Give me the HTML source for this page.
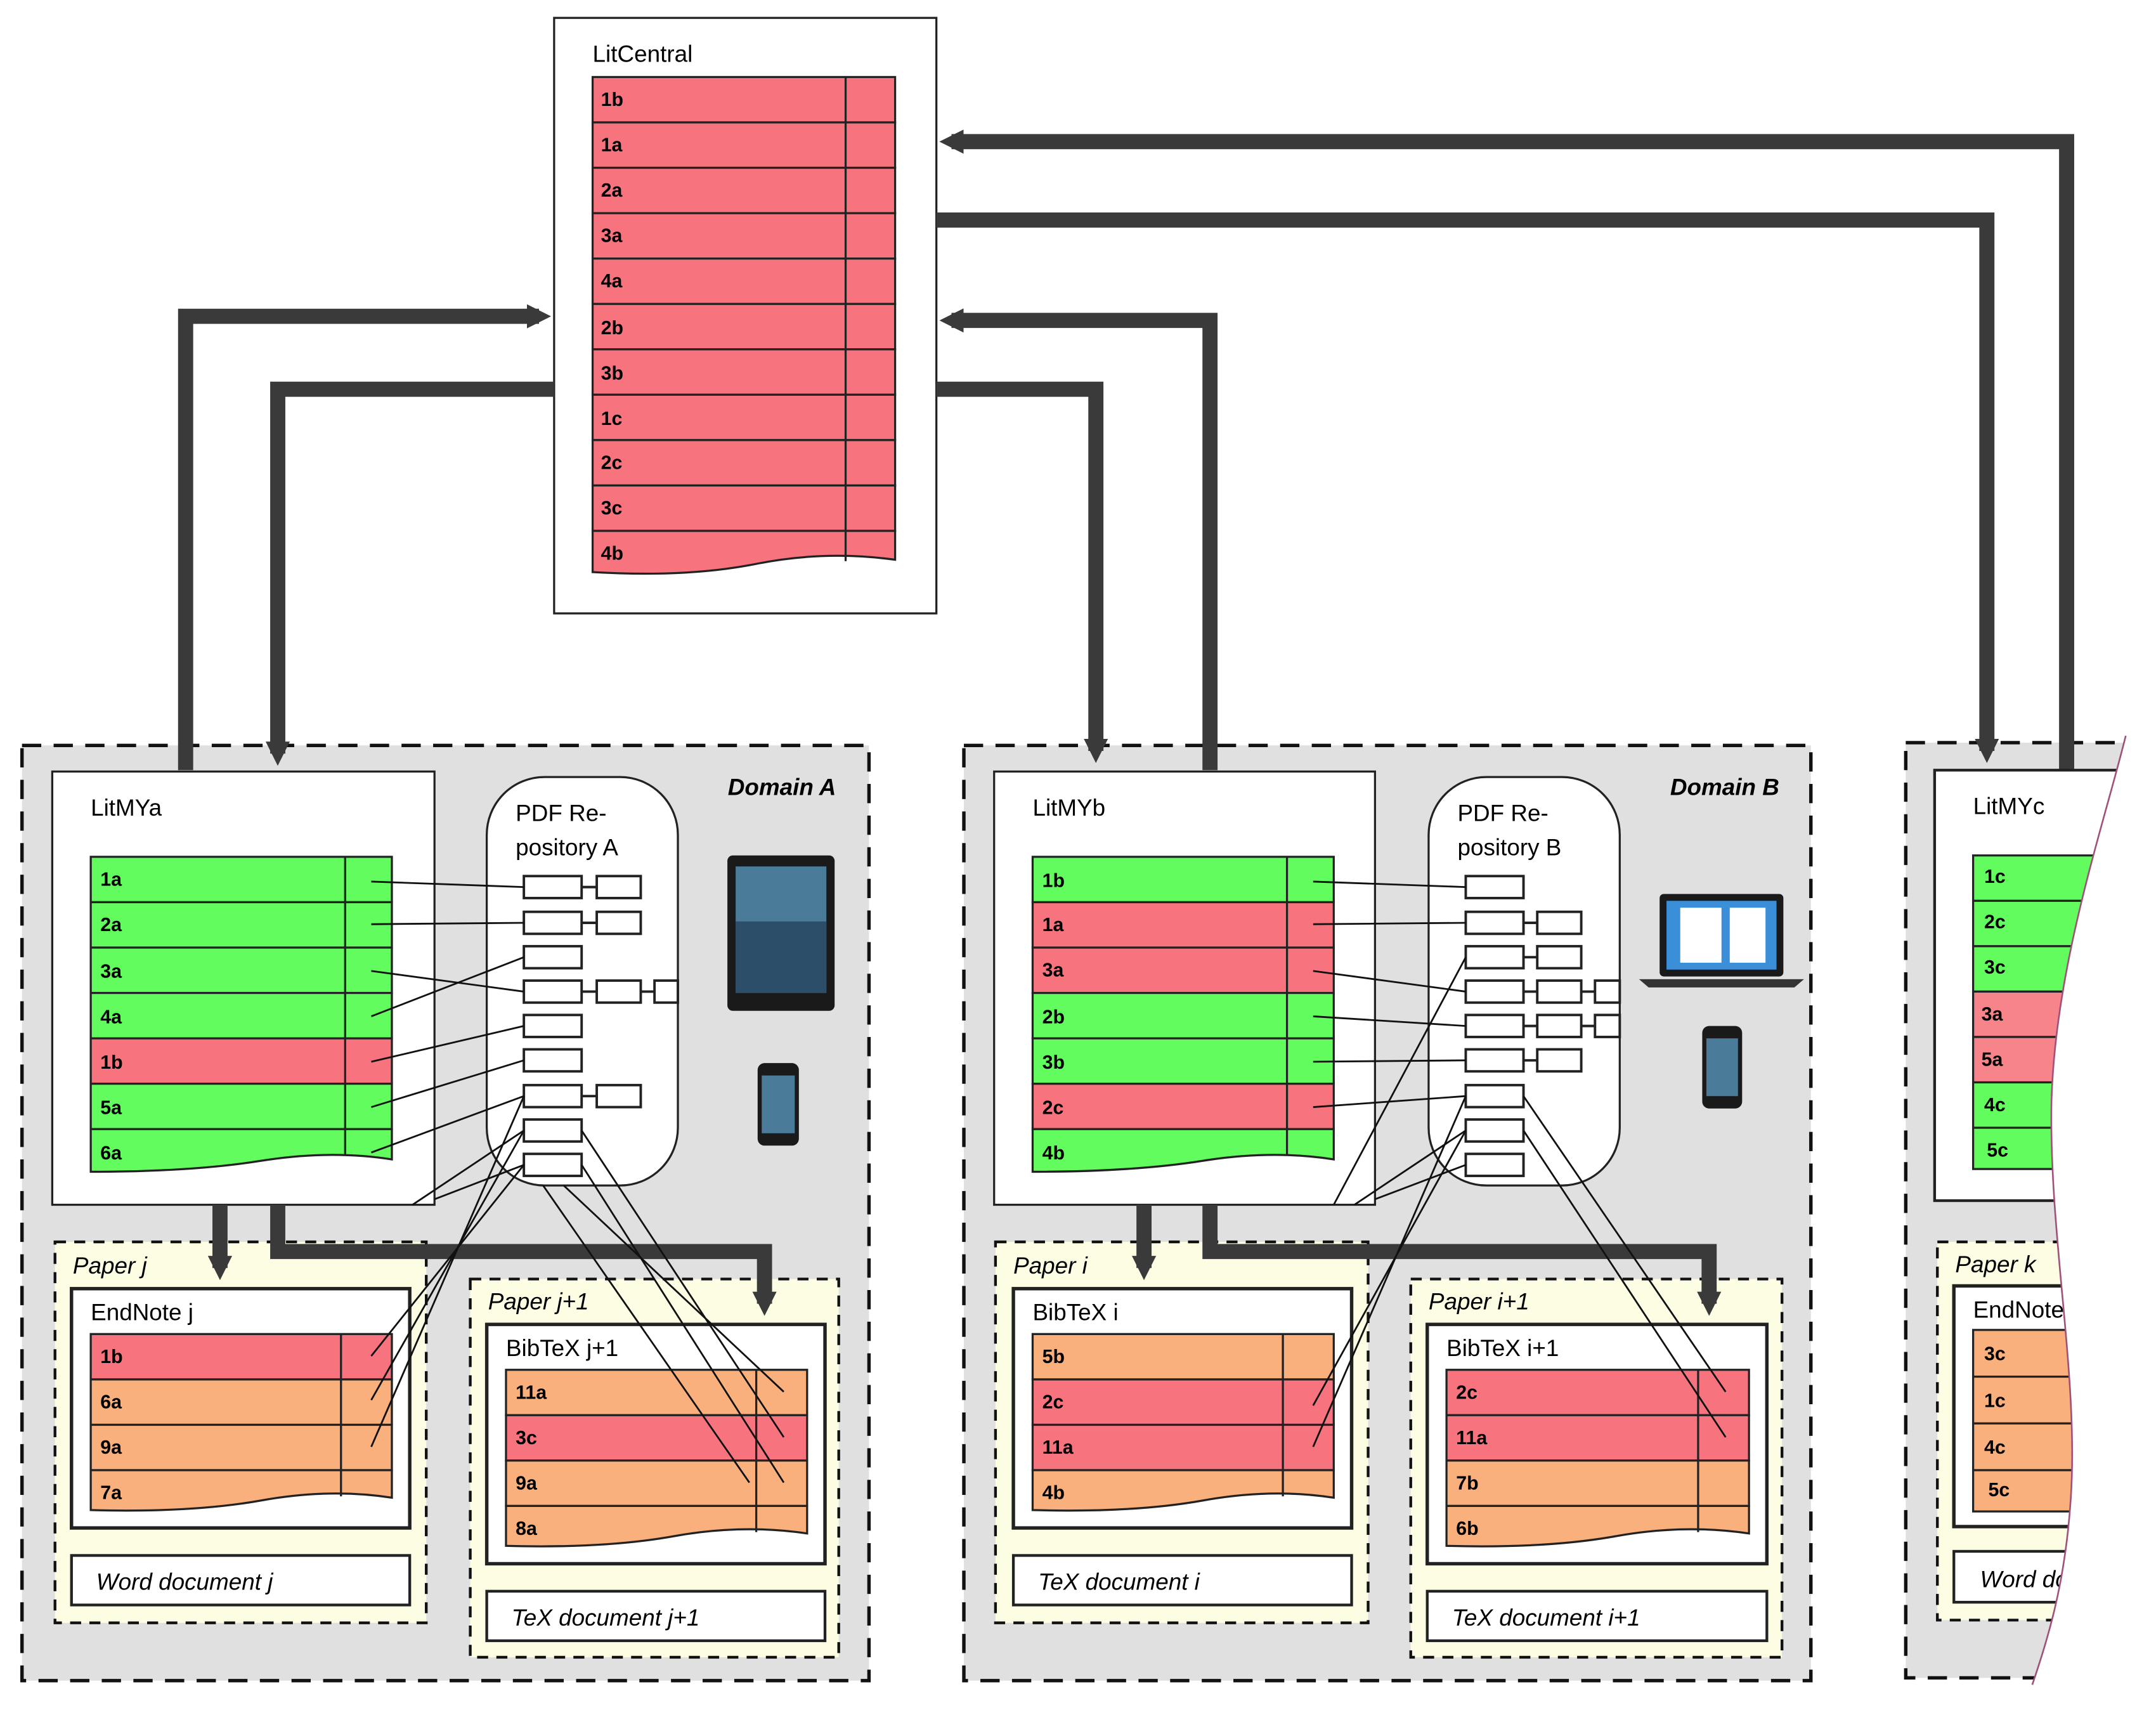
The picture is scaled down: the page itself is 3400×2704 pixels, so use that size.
<!DOCTYPE html>
<html><head><meta charset="utf-8"><style>html,body{margin:0;padding:0;background:#fff}svg{display:block}</style></head><body>
<svg xmlns="http://www.w3.org/2000/svg" width="3400" height="2704" viewBox="0 0 1568 1247" preserveAspectRatio="none" font-family="Liberation Sans, sans-serif">
<defs>
<marker id="ah" viewBox="0 0 10 10" refX="5" refY="5" markerWidth="1.6" markerHeight="1.6" orient="auto"><path d="M0,0 L10,5 L0,10 Z" fill="#3a3a3a"/></marker>
</defs>
<rect width="1568" height="1247" fill="#fff"/>

<rect x="16" y="542" width="616" height="680" fill="#e0e0e0" stroke="#111" stroke-width="2.5" stroke-dasharray="14,9"/>
<rect x="701" y="542" width="616" height="680" fill="#e0e0e0" stroke="#111" stroke-width="2.5" stroke-dasharray="14,9"/>
<rect x="1386" y="540" width="250" height="680" fill="#e0e0e0" stroke="#111" stroke-width="2.5" stroke-dasharray="14,9"/>
<text x="608" y="578" font-size="17" font-weight="bold" font-style="italic" text-anchor="end">Domain A</text>
<text x="1294" y="578" font-size="17" font-weight="bold" font-style="italic" text-anchor="end">Domain B</text>

<rect x="403" y="13" width="278" height="433" fill="#fff" stroke="#222" stroke-width="1.5"/>
<text x="431" y="45" font-size="17">LitCentral</text>
<g stroke="#222" stroke-width="1.5">
<g fill="#f7747f">
<rect x="431" y="56" width="220" height="33"/><rect x="431" y="89" width="220" height="33"/><rect x="431" y="122" width="220" height="33"/><rect x="431" y="155" width="220" height="33"/><rect x="431" y="188" width="220" height="33"/><rect x="431" y="221" width="220" height="33"/><rect x="431" y="254" width="220" height="33"/><rect x="431" y="287" width="220" height="33"/><rect x="431" y="320" width="220" height="33"/><rect x="431" y="353" width="220" height="33"/>
<path d="M431,386 H651 V407 Q600,400 550,410 T431,416 Z"/>
</g>
<line x1="615" y1="56" x2="615" y2="408"/>
</g>
<g font-size="14" font-weight="bold" fill="#000">
<text x="437" y="77">1b</text><text x="437" y="110">1a</text><text x="437" y="143">2a</text><text x="437" y="176">3a</text><text x="437" y="209">4a</text><text x="437" y="243">2b</text><text x="437" y="276">3b</text><text x="437" y="309">1c</text><text x="437" y="341">2c</text><text x="437" y="374">3c</text><text x="437" y="407">4b</text>
</g>

<g stroke="#3a3a3a" stroke-width="11" fill="none" stroke-linejoin="miter">
<path d="M135,560 V230 H392" marker-end="url(#ah)"/>
<path d="M403,283 H202 V548" marker-end="url(#ah)"/>
<path d="M1503,560 V103 H692" marker-end="url(#ah)"/>
<path d="M681,160 H1445 V546" marker-end="url(#ah)"/>
<path d="M880,560 V233 H692" marker-end="url(#ah)"/>
<path d="M681,283 H797 V546" marker-end="url(#ah)"/>
</g>

<rect x="40" y="903" width="270" height="277" fill="#fdfde4" stroke="#111" stroke-width="2" stroke-dasharray="8,6"/>
<rect x="342" y="930" width="268" height="275" fill="#fdfde4" stroke="#111" stroke-width="2" stroke-dasharray="8,6"/>
<rect x="38" y="561" width="278" height="315" fill="#fff" stroke="#222" stroke-width="1.5"/>
<text x="66" y="593" font-size="17">LitMYa</text>
<g stroke="#222" stroke-width="1.5">
<rect x="66" y="623" width="219" height="33" fill="#63fc5f"/><rect x="66" y="656" width="219" height="33" fill="#63fc5f"/><rect x="66" y="689" width="219" height="33" fill="#63fc5f"/><rect x="66" y="722" width="219" height="33" fill="#63fc5f"/><rect x="66" y="755" width="219" height="33" fill="#f7747f"/><rect x="66" y="788" width="219" height="33" fill="#63fc5f"/>
<path d="M66,821 H285 V843 Q240,836 190,844 T66,852 Z" fill="#63fc5f"/>
<line x1="251" y1="623" x2="251" y2="840"/>
</g>
<g font-size="14" font-weight="bold"><text x="73" y="644">1a</text><text x="73" y="677">2a</text><text x="73" y="711">3a</text><text x="73" y="744">4a</text><text x="73" y="777">1b</text><text x="73" y="810">5a</text><text x="73" y="843">6a</text></g>

<rect x="354" y="565" width="139" height="297" rx="42" fill="#fff" stroke="#222" stroke-width="1.5"/>
<text x="375" y="597" font-size="17">PDF Re-</text><text x="375" y="622" font-size="17">pository A</text>
<g fill="#fff" stroke="#222" stroke-width="1.8">
<rect x="381" y="637" width="42" height="16"/><rect x="434" y="637" width="32" height="16"/>
<rect x="381" y="663" width="42" height="16"/><rect x="434" y="663" width="32" height="16"/>
<rect x="381" y="688" width="42" height="16"/>
<rect x="381" y="713" width="42" height="16"/><rect x="434" y="713" width="32" height="16"/><rect x="476" y="713" width="17" height="16"/>
<rect x="381" y="738" width="42" height="16"/>
<rect x="381" y="763" width="42" height="16"/>
<rect x="381" y="789" width="42" height="16"/><rect x="434" y="789" width="32" height="16"/>
<rect x="381" y="814" width="42" height="16"/>
<rect x="381" y="839" width="42" height="16"/>
<path d="M423,645 H434 M423,671 H434 M423,721 H434 M466,721 H476 M423,797 H434"/>
</g>
<g stroke="#111" stroke-width="1.3" fill="none">
<line x1="270" y1="641" x2="381" y2="645"/><line x1="270" y1="672" x2="381" y2="671"/><line x1="270" y1="706" x2="381" y2="721"/><line x1="270" y1="739" x2="381" y2="696"/><line x1="270" y1="772" x2="381" y2="746"/><line x1="270" y1="805" x2="381" y2="771"/><line x1="270" y1="838" x2="381" y2="797"/>
<line x1="381" y1="822" x2="300" y2="876"/><line x1="381" y1="847" x2="316" y2="872"/>
</g>
<rect x="529" y="622" width="78" height="113" rx="4" fill="#1a1a1a"/>
<rect x="535" y="630" width="66" height="92" fill="#4a7c9a"/>
<rect x="535" y="670" width="66" height="52" fill="#2c4e68"/>
<rect x="551" y="773" width="30" height="60" rx="5" fill="#1a1a1a"/>
<rect x="554" y="782" width="24" height="42" fill="#4a7c9a"/>

<text x="53" y="926" font-size="17" font-style="italic">Paper j</text>
<rect x="52" y="937" width="246" height="174" fill="#fff" stroke="#222" stroke-width="2.5"/>
<text x="66" y="960" font-size="17">EndNote j</text>
<g stroke="#222" stroke-width="1.5">
<rect x="66" y="970" width="219" height="33" fill="#f7747f"/><rect x="66" y="1003" width="219" height="33" fill="#f9b07c"/><rect x="66" y="1036" width="219" height="33" fill="#f9b07c"/>
<path d="M66,1069 H285 V1089 Q240,1082 190,1091 T66,1098 Z" fill="#f9b07c"/>
<line x1="248" y1="970" x2="248" y2="1088"/>
</g>
<g font-size="14" font-weight="bold"><text x="73" y="991">1b</text><text x="73" y="1024">6a</text><text x="73" y="1057">9a</text><text x="73" y="1090">7a</text></g>
<rect x="52" y="1131" width="246" height="36" fill="#fff" stroke="#222" stroke-width="2"/>
<text x="70" y="1156" font-size="17" font-style="italic">Word document j</text>

<text x="355" y="952" font-size="17" font-style="italic">Paper j+1</text>
<rect x="354" y="963" width="246" height="174" fill="#fff" stroke="#222" stroke-width="2.5"/>
<text x="368" y="986" font-size="17">BibTeX j+1</text>
<g stroke="#222" stroke-width="1.5">
<rect x="368" y="996" width="219" height="33" fill="#f9b07c"/><rect x="368" y="1029" width="219" height="33" fill="#f7747f"/><rect x="368" y="1062" width="219" height="33" fill="#f9b07c"/>
<path d="M368,1095 H587 V1115 Q540,1108 490,1117 T368,1124 Z" fill="#f9b07c"/>
<line x1="550" y1="996" x2="550" y2="1114"/>
</g>
<g font-size="14" font-weight="bold"><text x="375" y="1017">11a</text><text x="375" y="1050">3c</text><text x="375" y="1083">9a</text><text x="375" y="1116">8a</text></g>
<rect x="354" y="1157" width="246" height="36" fill="#fff" stroke="#222" stroke-width="2"/>
<text x="372" y="1182" font-size="17" font-style="italic">TeX document j+1</text>

<g stroke="#3a3a3a" stroke-width="11" fill="none">
<path d="M160,876 V922" marker-end="url(#ah)"/>
<path d="M202,876 V910 H556 V948" marker-end="url(#ah)"/>
</g>

<rect x="724" y="903" width="271" height="277" fill="#fdfde4" stroke="#111" stroke-width="2" stroke-dasharray="8,6"/>
<rect x="1026" y="930" width="270" height="275" fill="#fdfde4" stroke="#111" stroke-width="2" stroke-dasharray="8,6"/>
<rect x="723" y="561" width="277" height="315" fill="#fff" stroke="#222" stroke-width="1.5"/>
<text x="751" y="593" font-size="17">LitMYb</text>
<g stroke="#222" stroke-width="1.5">
<rect x="751" y="623" width="219" height="33" fill="#63fc5f"/><rect x="751" y="656" width="219" height="33" fill="#f7747f"/><rect x="751" y="689" width="219" height="33" fill="#f7747f"/><rect x="751" y="722" width="219" height="33" fill="#63fc5f"/><rect x="751" y="755" width="219" height="33" fill="#63fc5f"/><rect x="751" y="788" width="219" height="33" fill="#f7747f"/>
<path d="M751,821 H970 V843 Q925,836 875,844 T751,852 Z" fill="#63fc5f"/>
<line x1="936" y1="623" x2="936" y2="840"/>
</g>
<g font-size="14" font-weight="bold"><text x="758" y="645">1b</text><text x="758" y="677">1a</text><text x="758" y="710">3a</text><text x="758" y="744">2b</text><text x="758" y="777">3b</text><text x="758" y="810">2c</text><text x="758" y="843">4b</text></g>

<rect x="1039" y="565" width="139" height="297" rx="42" fill="#fff" stroke="#222" stroke-width="1.5"/>
<text x="1060" y="597" font-size="17">PDF Re-</text><text x="1060" y="622" font-size="17">pository B</text>
<g fill="#fff" stroke="#222" stroke-width="1.8">
<rect x="1066" y="637" width="42" height="16"/>
<rect x="1066" y="663" width="42" height="16"/><rect x="1118" y="663" width="32" height="16"/>
<rect x="1066" y="688" width="42" height="16"/><rect x="1118" y="688" width="32" height="16"/>
<rect x="1066" y="713" width="42" height="16"/><rect x="1118" y="713" width="32" height="16"/><rect x="1160" y="713" width="18" height="16"/>
<rect x="1066" y="738" width="42" height="16"/><rect x="1118" y="738" width="32" height="16"/><rect x="1160" y="738" width="18" height="16"/>
<rect x="1066" y="763" width="42" height="16"/><rect x="1118" y="763" width="32" height="16"/>
<rect x="1066" y="789" width="42" height="16"/>
<rect x="1066" y="814" width="42" height="16"/>
<rect x="1066" y="839" width="42" height="16"/>
<path d="M1108,671 H1118 M1108,696 H1118 M1108,721 H1118 M1150,721 H1160 M1108,746 H1118 M1150,746 H1160 M1108,771 H1118"/>
</g>
<g stroke="#111" stroke-width="1.3" fill="none">
<line x1="955" y1="641" x2="1066" y2="645"/><line x1="955" y1="672" x2="1066" y2="671"/><line x1="955" y1="706" x2="1066" y2="721"/><line x1="955" y1="739" x2="1066" y2="746"/><line x1="955" y1="772" x2="1066" y2="771"/><line x1="955" y1="805" x2="1066" y2="797"/>
<line x1="1066" y1="696" x2="970" y2="876"/><line x1="1066" y1="822" x2="985" y2="876"/><line x1="1066" y1="847" x2="1000" y2="872"/>
</g>
<rect x="1207" y="650" width="90" height="60" rx="3" fill="#1a1a1a"/>
<rect x="1212" y="655" width="80" height="50" fill="#3b8fd9"/>
<rect x="1222" y="660" width="30" height="40" fill="#fff"/><rect x="1258" y="660" width="26" height="40" fill="#fff"/>
<path d="M1192,712 H1312 L1305,718 H1199 Z" fill="#333"/>
<rect x="1238" y="746" width="29" height="60" rx="5" fill="#1a1a1a"/>
<rect x="1241" y="755" width="23" height="42" fill="#4a7c9a"/>

<text x="737" y="926" font-size="17" font-style="italic">Paper i</text>
<rect x="737" y="937" width="246" height="174" fill="#fff" stroke="#222" stroke-width="2.5"/>
<text x="751" y="960" font-size="17">BibTeX i</text>
<g stroke="#222" stroke-width="1.5">
<rect x="751" y="970" width="219" height="33" fill="#f9b07c"/><rect x="751" y="1003" width="219" height="33" fill="#f7747f"/><rect x="751" y="1036" width="219" height="33" fill="#f7747f"/>
<path d="M751,1069 H970 V1089 Q925,1082 875,1091 T751,1098 Z" fill="#f9b07c"/>
<line x1="933" y1="970" x2="933" y2="1088"/>
</g>
<g font-size="14" font-weight="bold"><text x="758" y="991">5b</text><text x="758" y="1024">2c</text><text x="758" y="1057">11a</text><text x="758" y="1090">4b</text></g>
<rect x="737" y="1131" width="246" height="36" fill="#fff" stroke="#222" stroke-width="2"/>
<text x="755" y="1156" font-size="17" font-style="italic">TeX document i</text>

<text x="1039" y="952" font-size="17" font-style="italic">Paper i+1</text>
<rect x="1038" y="963" width="247" height="174" fill="#fff" stroke="#222" stroke-width="2.5"/>
<text x="1052" y="986" font-size="17">BibTeX i+1</text>
<g stroke="#222" stroke-width="1.5">
<rect x="1052" y="996" width="220" height="33" fill="#f7747f"/><rect x="1052" y="1029" width="220" height="33" fill="#f7747f"/><rect x="1052" y="1062" width="220" height="33" fill="#f9b07c"/>
<path d="M1052,1095 H1272 V1115 Q1225,1108 1175,1117 T1052,1124 Z" fill="#f9b07c"/>
<line x1="1235" y1="996" x2="1235" y2="1114"/>
</g>
<g font-size="14" font-weight="bold"><text x="1059" y="1017">2c</text><text x="1059" y="1050">11a</text><text x="1059" y="1083">7b</text><text x="1059" y="1116">6b</text></g>
<rect x="1038" y="1157" width="247" height="36" fill="#fff" stroke="#222" stroke-width="2"/>
<text x="1056" y="1182" font-size="17" font-style="italic">TeX document i+1</text>

<g stroke="#3a3a3a" stroke-width="11" fill="none">
<path d="M832,876 V922" marker-end="url(#ah)"/>
<path d="M880,876 V910 H1243 V948" marker-end="url(#ah)"/>
</g>

<!-- thin connectors into papers (on top) -->
<g stroke="#111" stroke-width="1.3" fill="none">
<line x1="381" y1="797" x2="270" y2="1052"/><line x1="381" y1="822" x2="270" y2="1018"/><line x1="381" y1="847" x2="270" y2="986"/>
<line x1="423" y1="822" x2="570" y2="1045"/><line x1="423" y1="847" x2="570" y2="1078"/><line x1="410" y1="862" x2="570" y2="1012"/><line x1="395" y1="862" x2="545" y2="1078"/>
<line x1="1066" y1="797" x2="955" y2="1052"/><line x1="1066" y1="822" x2="955" y2="1022"/>
<line x1="1108" y1="797" x2="1255" y2="1012"/><line x1="1108" y1="822" x2="1255" y2="1045"/>
</g>

<rect x="1409" y="903" width="200" height="275" fill="#fdfde4" stroke="#111" stroke-width="2" stroke-dasharray="8,6"/>
<rect x="1407" y="560" width="200" height="313" fill="#fff" stroke="#222" stroke-width="2"/>
<text x="1435" y="592" font-size="17">LitMYc</text>
<g stroke="#222" stroke-width="1.5">
<rect x="1435" y="622" width="150" height="33" fill="#63fc5f"/><rect x="1435" y="655" width="150" height="33" fill="#63fc5f"/><rect x="1435" y="688" width="150" height="33" fill="#63fc5f"/><rect x="1435" y="721" width="150" height="33" fill="#f7848a"/><rect x="1435" y="754" width="150" height="33" fill="#f7848a"/><rect x="1435" y="787" width="150" height="33" fill="#63fc5f"/><rect x="1435" y="820" width="150" height="30" fill="#63fc5f"/>
</g>
<g font-size="14" font-weight="bold"><text x="1443" y="642">1c</text><text x="1443" y="675">2c</text><text x="1443" y="708">3c</text><text x="1441" y="742">3a</text><text x="1441" y="775">5a</text><text x="1443" y="808">4c</text><text x="1445" y="841">5c</text></g>
<text x="1422" y="925" font-size="17" font-style="italic">Paper k</text>
<rect x="1421" y="935" width="200" height="175" fill="#fff" stroke="#222" stroke-width="2.5"/>
<text x="1435" y="958" font-size="17">EndNote k</text>
<g stroke="#222" stroke-width="1.5" fill="#f9b07c">
<rect x="1435" y="967" width="150" height="34"/><rect x="1435" y="1001" width="150" height="34"/><rect x="1435" y="1035" width="150" height="34"/><rect x="1435" y="1069" width="150" height="30"/>
</g>
<g font-size="14" font-weight="bold"><text x="1443" y="989">3c</text><text x="1443" y="1023">1c</text><text x="1443" y="1057">4c</text><text x="1446" y="1088">5c</text></g>
<rect x="1421" y="1128" width="200" height="37" fill="#fff" stroke="#222" stroke-width="2"/>
<text x="1440" y="1154" font-size="17" font-style="italic">Word document k</text>

<path d="M1546,535 C1530,600 1495,700 1492,800 C1490,900 1512,1000 1506,1090 C1502,1150 1490,1190 1478,1225 L1580,1250 L1580,530 Z" fill="#fff" stroke="none"/>
<path d="M1546,535 C1530,600 1495,700 1492,800 C1490,900 1512,1000 1506,1090 C1502,1150 1490,1190 1478,1225" fill="none" stroke="#a0507a" stroke-width="1.2"/>
</svg>
</body></html>
